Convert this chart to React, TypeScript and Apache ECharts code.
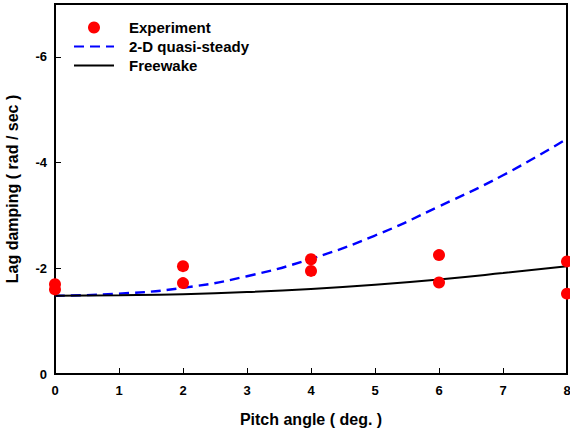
import React, { useEffect, useRef } from "react";
import * as echarts from "echarts";

const pitchAngles = [0, 1, 2, 3, 4, 5, 6, 7, 8];
const quasiSteady = [-1.48, -1.52, -1.63, -1.85, -2.18, -2.62, -3.17, -3.76, -4.45];
const freewake = [-1.48, -1.49, -1.51, -1.55, -1.61, -1.69, -1.79, -1.91, -2.04];
const expX = [0, 0, 2, 2, 4, 4, 6, 6, 8, 8];
const expY = [-1.7, -1.6, -2.04, -1.72, -2.17, -1.95, -2.25, -1.73, -2.13, -1.52];
const yTicks = [0, -2, -4, -6];

const FONT = "'Liberation Sans', Arial, sans-serif";

export default function App() {
  const ref = useRef<HTMLDivElement>(null);
  useEffect(() => {
    const chart = echarts.init(ref.current!, null, { renderer: "svg" });
    chart.setOption({
      animation: false,
      backgroundColor: "#fff",
      grid: {
        left: 55,
        right: 3,
        top: 4,
        bottom: 58,
        show: true,
        borderColor: "#000",
        borderWidth: 2,
        containLabel: false,
        outerBoundsMode: "none",
      },
      legend: {
        orient: "vertical",
        left: 68,
        top: 15,
        itemWidth: 40,
        itemHeight: 12,
        itemGap: 4,
        textStyle: { fontFamily: FONT, fontWeight: "bold", fontSize: 15, color: "#000", padding: [0, 0, 0, 10] },
        data: [
          { name: "Experiment", icon: "circle" },
          { name: "2-D quasi-steady", itemStyle: { opacity: 0 } },
          { name: "Freewake", itemStyle: { opacity: 0 } },
        ],
      },
      xAxis: {
        type: "value",
        min: 0,
        max: 8,
        interval: 1,
        name: "Pitch angle ( deg. )",
        nameLocation: "middle",
        nameGap: 37,
        nameTextStyle: { fontFamily: FONT, fontWeight: "bold", fontSize: 16, color: "#000" },
        axisLine: { show: true, lineStyle: { color: "#000", width: 2 } },
        axisTick: { show: true, inside: true, length: 6, lineStyle: { color: "#000", width: 1 } },
        axisLabel: { fontFamily: FONT, fontWeight: "bold", fontSize: 13, color: "#000", margin: 10 },
        splitLine: { show: false },
      },
      yAxis: {
        type: "value",
        min: -7,
        max: 0,
        inverse: true,
        name: "Lag damping ( rad / sec )",
        nameLocation: "middle",
        nameGap: 35,
        nameTextStyle: { fontFamily: FONT, fontWeight: "bold", fontSize: 16, color: "#000" },
        axisLine: { show: true, lineStyle: { color: "#000", width: 2 } },
        axisTick: { show: true, inside: true, length: 6, customValues: yTicks, lineStyle: { color: "#000", width: 1 } },
        axisLabel: { fontFamily: FONT, fontWeight: "bold", fontSize: 13, color: "#000", margin: 8, customValues: yTicks },
        splitLine: { show: false },
      },
      series: [
        {
          name: "Experiment",
          type: "scatter",
          symbol: "circle",
          symbolSize: 12,
          itemStyle: { color: "#ff0000", opacity: 1 },
          data: expX.map((x, i) => [x, expY[i]]),
          z: 5,
        },
        {
          name: "2-D quasi-steady",
          type: "line",
          smooth: true,
          showSymbol: false,
          symbol: "none",
          lineStyle: { color: "#0000ff", width: 2.4, type: [10, 6] },
          itemStyle: { color: "#0000ff" },
          data: pitchAngles.map((x, i) => [x, quasiSteady[i]]),
        },
        {
          name: "Freewake",
          type: "line",
          smooth: true,
          showSymbol: false,
          symbol: "none",
          lineStyle: { color: "#000", width: 2 },
          itemStyle: { color: "#000" },
          data: pitchAngles.map((x, i) => [x, freewake[i]]),
        },
      ],
    });
    return () => chart.dispose();
  }, []);
  return <div ref={ref} style={{ position: "absolute", left: 0, top: 0, width: 570, height: 432 }} />;
}
